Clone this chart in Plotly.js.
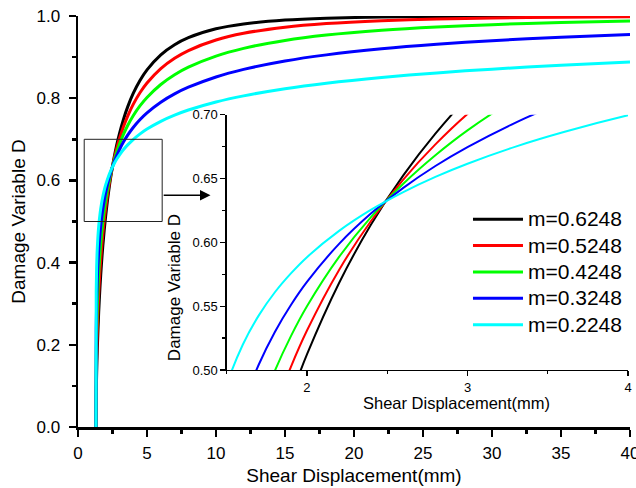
<!DOCTYPE html>
<html>
<head>
<meta charset="utf-8">
<script src="https://cdn.plot.ly/plotly-3.0.1.min.js"></script>
<style>html,body{margin:0;padding:0;background:#fff;}#chart{width:636px;height:488px;}</style>
</head>
<body>
<div id="chart"></div>
<script>
// Shear displacement (mm)
var shearX = [1.3, 1.32, 1.35, 1.4, 1.5, 1.6, 1.7, 1.8, 1.9, 2.0, 2.2, 2.4, 2.6, 2.8, 3.0, 3.3, 3.6, 4.0, 4.5, 5, 6, 7, 8, 10, 12, 15, 18, 22, 26, 30, 35, 40];
// Damage variable D for each m
var dM06248 = [0, 0.0749, 0.1289, 0.1917, 0.2798, 0.3448, 0.3971, 0.4410, 0.4789, 0.5122, 0.5682, 0.6141, 0.6524, 0.6851, 0.7134, 0.7492, 0.7789, 0.8115, 0.8436, 0.8689, 0.9055, 0.9301, 0.9473, 0.9688, 0.9806, 0.9900, 0.9945, 0.9974, 0.9987, 0.9993, 0.9997, 0.9999];
var dM05248 = [0, 0.1105, 0.1726, 0.2386, 0.3244, 0.3844, 0.4313, 0.4698, 0.5025, 0.5309, 0.5784, 0.6169, 0.6492, 0.6767, 0.7006, 0.7310, 0.7566, 0.7850, 0.8138, 0.8370, 0.8721, 0.8972, 0.9160, 0.9416, 0.9579, 0.9728, 0.9817, 0.9886, 0.9926, 0.9951, 0.9969, 0.9980];
var dM04248 = [0, 0.1616, 0.2291, 0.2948, 0.3742, 0.4270, 0.4670, 0.4994, 0.5265, 0.5499, 0.5886, 0.6199, 0.6459, 0.6682, 0.6877, 0.7126, 0.7337, 0.7574, 0.7818, 0.8019, 0.8334, 0.8571, 0.8755, 0.9025, 0.9213, 0.9406, 0.9537, 0.9654, 0.9734, 0.9790, 0.9841, 0.9876];
var dM03248 = [0, 0.2330, 0.3004, 0.3607, 0.4289, 0.4723, 0.5043, 0.5298, 0.5509, 0.5690, 0.5988, 0.6227, 0.6427, 0.6598, 0.6746, 0.6938, 0.7102, 0.7288, 0.7481, 0.7644, 0.7903, 0.8105, 0.8267, 0.8517, 0.8701, 0.8905, 0.9054, 0.9202, 0.9313, 0.9399, 0.9483, 0.9549];
var dM02248 = [0, 0.3290, 0.3876, 0.4362, 0.4881, 0.5198, 0.5428, 0.5609, 0.5757, 0.5884, 0.6090, 0.6256, 0.6394, 0.6513, 0.6616, 0.6750, 0.6864, 0.6995, 0.7132, 0.7249, 0.7438, 0.7588, 0.7712, 0.7907, 0.8057, 0.8231, 0.8365, 0.8505, 0.8616, 0.8707, 0.8800, 0.8878];

var seriesNames = ['m=0.6248', 'm=0.5248', 'm=0.4248', 'm=0.3248', 'm=0.2248'];
var seriesValues = [dM06248, dM05248, dM04248, dM03248, dM02248];
var seriesColors = ['#000000', '#ff0000', '#00ff00', '#0000ff', '#00ffff'];

var traces = [];
seriesValues.forEach(function (vals, i) {
  traces.push({
    type: 'scatter', mode: 'lines', x: shearX, y: vals,
    name: '<span style="font-size:21px">' + seriesNames[i] + '</span>',
    line: {color: seriesColors[i], width: 3, shape: 'spline', smoothing: 0.8},
    xaxis: 'x', yaxis: 'y', showlegend: true, hoverinfo: 'skip'
  });
});
seriesValues.forEach(function (vals, i) {
  traces.push({
    type: 'scatter', mode: 'lines', x: shearX, y: vals, name: seriesNames[i],
    line: {color: seriesColors[i], width: 2, shape: 'spline', smoothing: 0.8},
    xaxis: 'x2', yaxis: 'y2', showlegend: false, hoverinfo: 'skip'
  });
});

var FONT = '"Liberation Sans", Arial, Helvetica, sans-serif';
var mainAxis = {
  ticks: 'outside', ticklen: 7, tickwidth: 2.5, tickcolor: '#000',
  showline: true, linewidth: 2.5, linecolor: '#000', mirror: false,
  showgrid: false, zeroline: false, tickfont: {size: 17, color: '#000'}
};
var insetAxis = {
  ticks: 'outside', ticklen: 5, tickwidth: 1.3, tickcolor: '#000',
  showline: true, linewidth: 1.3, linecolor: '#000', mirror: false,
  showgrid: false, zeroline: false, tickfont: {size: 13, color: '#000'}
};

var layout = {
  width: 636, height: 488,
  margin: {l: 78, r: 6, t: 16, b: 61},
  paper_bgcolor: '#fff', plot_bgcolor: 'rgba(0,0,0,0)',
  font: {family: FONT, color: '#000'},
  showlegend: true,
  legend: {x: 0.7065, y: 0.550, xanchor: 'left', yanchor: 'top', font: {size: 18, color: '#000'},
           itemwidth: 50,
           bgcolor: 'rgba(0,0,0,0)', borderwidth: 0, tracegroupgap: 0, traceorder: 'normal'},
  xaxis: Object.assign({}, mainAxis, {
    domain: [0, 1], range: [0, 40], tick0: 0, dtick: 5, ticklabelstandoff: 2, ticklabeloverflow: 'allow',
    minor: {dtick: 2.5, ticks: 'outside', ticklen: 4, tickwidth: 2.5, tickcolor: '#000', showgrid: false},
    title: {text: 'Shear Displacement(mm)', font: {size: 19}, standoff: 7}
  }),
  yaxis: Object.assign({}, mainAxis, {
    domain: [0, 1], range: [0, 1.0], tick0: 0, dtick: 0.2, tickformat: '.1f', ticklabelstandoff: 5,
    minor: {dtick: 0.1, ticks: 'outside', ticklen: 4, tickwidth: 2.5, tickcolor: '#000', showgrid: false},
    title: {text: 'Damage Variable D', font: {size: 19}, standoff: 6}
  }),
  xaxis2: Object.assign({}, insetAxis, {
    domain: [0.2694, 0.9964], anchor: 'y2', range: [1.5, 4], tick0: 0, dtick: 1,
    minor: {dtick: 0.5, ticks: 'outside', ticklen: 3, tickwidth: 1.3, tickcolor: '#000', showgrid: false}
  }),
  yaxis2: Object.assign({}, insetAxis, {
    domain: [0.1387, 0.7599], anchor: 'x2', range: [0.5, 0.7], tick0: 0.5, dtick: 0.05, tickformat: '.2f',
    minor: {dtick: 0.025, ticks: 'outside', ticklen: 3, tickwidth: 1.3, tickcolor: '#000', showgrid: false}
  }),
  shapes: [
    {type: 'rect', xref: 'x', yref: 'y', x0: 0.45, x1: 6.1, y0: 0.5, y1: 0.7,
     line: {color: '#222', width: 1}, fillcolor: 'rgba(0,0,0,0)'}
  ],
  annotations: [
    {xref: 'x', yref: 'y', axref: 'x', ayref: 'y', x: 9.6, y: 0.564, ax: 6.1, ay: 0.564,
     text: '', showarrow: true, arrowhead: 2, arrowsize: 1.4, arrowwidth: 1.5, arrowcolor: '#000', standoff: 0, startstandoff: 0},
    {xref: 'paper', yref: 'paper', x: 0.685, y: 0.058, xanchor: 'center', yanchor: 'middle',
     text: 'Shear Displacement(mm)', showarrow: false, font: {size: 16.5, color: '#000'}},
    {xref: 'paper', yref: 'paper', x: 0.174, y: 0.338, xanchor: 'center', yanchor: 'middle', textangle: -90,
     text: 'Damage Variable D', showarrow: false, font: {size: 17, color: '#000'}}
  ]
};

Plotly.newPlot('chart', traces, layout, {displayModeBar: false, staticPlot: true});
</script>
</body>
</html>
